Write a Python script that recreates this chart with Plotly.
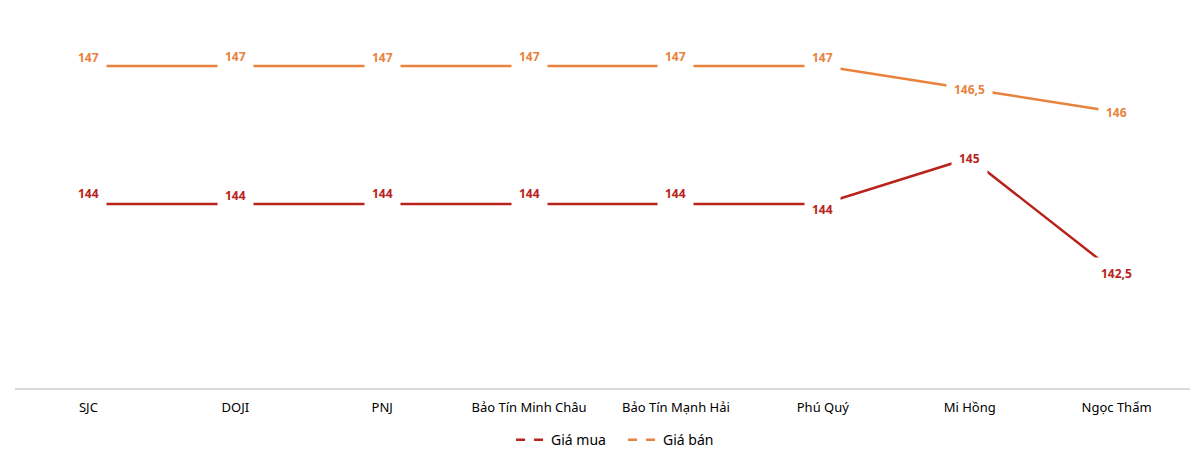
import plotly.graph_objects as go

# gold prices by dealer (million VND / luong)
dealers = ['SJC', 'DOJI', 'PNJ', 'Bảo Tín Minh Châu', 'Bảo Tín Mạnh Hải',
           'Phú Quý', 'Mi Hồng', 'Ngọc Thẩm']
gia_mua = [144, 144, 144, 144, 144, 144, 145, 142.5]
gia_ban = [147, 147, 147, 147, 147, 147, 146.5, 146]

red = '#B8231C'
orange = '#E8823C'
font_name = 'Noto Sans'

# label shifts (px) so labels sit like in the excel chart
mua_shift = [11, 9, 11, 11, 11, -5, 0, 0]
ban_shift = [9, 10, 9, 10, 10, 9, 0, 0]


def fmt(v):
    return ('%g' % v).replace('.', ',')


fig = go.Figure()
fig.add_trace(go.Scatter(x=dealers, y=gia_mua, mode='lines', name='Giá mua',
                         line=dict(color=red, width=2.5), showlegend=False))
fig.add_trace(go.Scatter(x=dealers, y=gia_ban, mode='lines', name='Giá bán',
                         line=dict(color=orange, width=2.5), showlegend=False))
# legend entries only
fig.add_trace(go.Scatter(x=[None], y=[None], mode='lines', name='Giá mua',
                         line=dict(color=red, width=2.5, dash='dash')))
fig.add_trace(go.Scatter(x=[None], y=[None], mode='lines', name='Giá bán',
                         line=dict(color=orange, width=2.5, dash='dash')))

for vals, col, shifts in [(gia_mua, red, mua_shift), (gia_ban, orange, ban_shift)]:
    for d, v, s in zip(dealers, vals, shifts):
        fig.add_annotation(x=d, y=v, text='<b>' + fmt(v) + '</b>', showarrow=False,
                           yshift=s, bgcolor='white', borderpad=7,
                           font=dict(family=font_name, size=12, color=col))

fig.update_layout(
    width=1200, height=455,
    margin=dict(l=7, r=18, t=12, b=75),
    plot_bgcolor='white', paper_bgcolor='white',
    font=dict(family=font_name, size=13, color='#000000'),
    xaxis=dict(showline=True, linecolor='#D9D9D9', linewidth=1.5, ticks='',
               showgrid=False, tickfont=dict(size=13), range=[-0.5, 7.5],
               ticklabelstandoff=7),
    yaxis=dict(range=[140, 148], visible=False, showgrid=False),
    legend=dict(orientation='h', x=0.5175, xanchor='center', yref='container',
                y=0.05, yanchor='middle', font=dict(size=14), entrywidth=67),
    hovermode=False,
)

fig.write_html('out.html')
